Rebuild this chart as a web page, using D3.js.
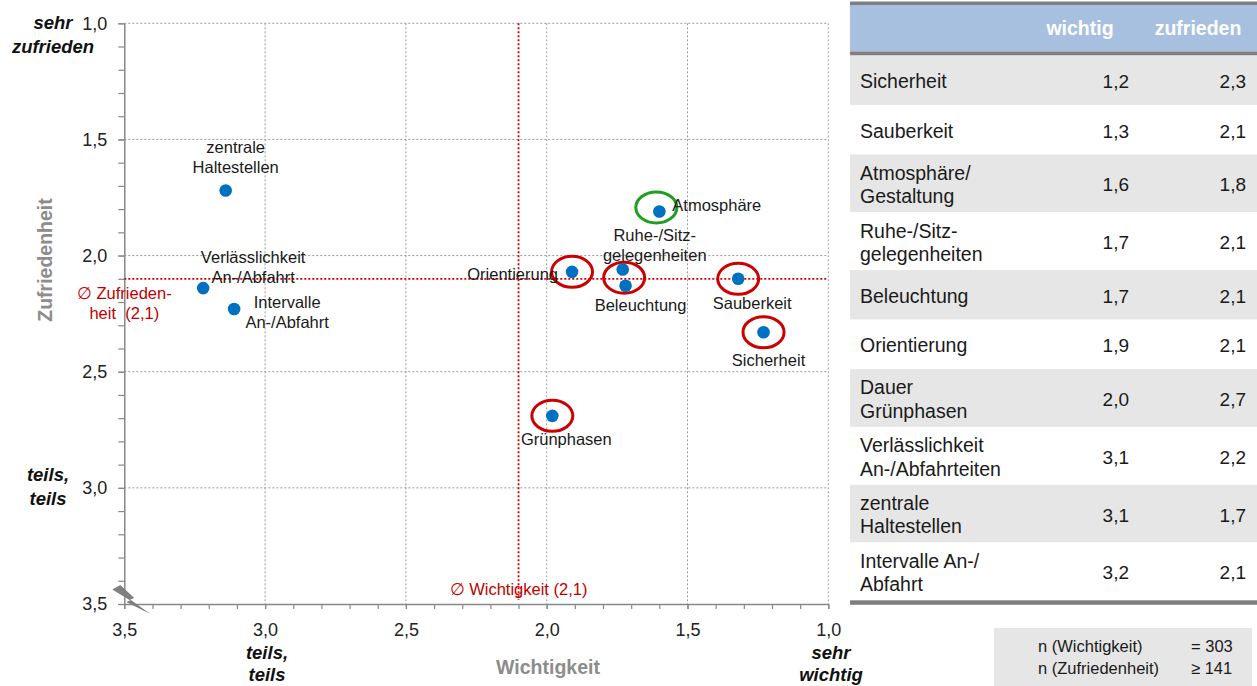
<!DOCTYPE html>
<html lang="de">
<head>
<meta charset="utf-8">
<title>Wichtigkeit und Zufriedenheit</title>
<script src="https://cdn.jsdelivr.net/npm/d3@7"></script>
<style>
  html, body { margin: 0; padding: 0; background: #fff; }
  svg { display: block; font-family: "Liberation Sans", Arial, Helvetica, sans-serif; }
</style>
</head>
<body>
<svg id="chart" width="1257" height="686"></svg>
<script>
// ---- Daten: Portfolio Wichtigkeit x Zufriedenheit (Notenskala, 1 = sehr gut) ----
const items = [
  "Sicherheit", "Sauberkeit", "Atmosphäre", "Ruhe-/Sitz-gelegenheiten", "Beleuchtung",
  "Orientierung", "Grünphasen", "Verlässlichkeit An-/Abfahrt", "zentrale Haltestellen",
  "Intervalle An-/Abfahrt"
];
const importance   = [1.23, 1.32, 1.60, 1.73, 1.72, 1.91, 1.98, 3.22, 3.14, 3.11];
const satisfaction = [2.33, 2.10, 1.81, 2.06, 2.13, 2.07, 2.69, 2.14, 1.72, 2.23];

const meanImportance = 2.1;
const meanSatisfaction = 2.1;

// hervorgehobene Kriterien (rot: Handlungsbedarf, grün: Stärke)
const redGroups = [["Orientierung"], ["Ruhe-/Sitz-gelegenheiten", "Beleuchtung"], ["Sauberkeit"], ["Sicherheit"], ["Grünphasen"]];
const greenGroups = [["Atmosphäre"]];

const xTicks = [3.5, 3.0, 2.5, 2.0, 1.5, 1.0];
const yTicks = [1.0, 1.5, 2.0, 2.5, 3.0, 3.5];

// Tabelle rechts
const tableHeader = ["wichtig", "zufrieden"];
const tableLabels = [
  ["Sicherheit"], ["Sauberkeit"], ["Atmosphäre/", "Gestaltung"], ["Ruhe-/Sitz-", "gelegenheiten"],
  ["Beleuchtung"], ["Orientierung"], ["Dauer", "Grünphasen"], ["Verlässlichkeit", "An-/Abfahrteiten"],
  ["zentrale", "Haltestellen"], ["Intervalle An-/", "Abfahrt"]
];
const tableWichtig   = [1.2, 1.3, 1.6, 1.7, 1.7, 1.9, 2.0, 3.1, 3.1, 3.2];
const tableZufrieden = [2.3, 2.1, 1.8, 2.1, 2.1, 2.1, 2.7, 2.2, 1.7, 2.1];

const sampleLabels = ["n (Wichtigkeit)", "n (Zufriedenheit)"];
const sampleValues = ["= 303", "≥ 141"];

// ---- Beschriftungs-Layout der Punkte (Versatz zur Punktmitte in px) ----
const labelLayout = {
  "Sicherheit":                  { lines: ["Sicherheit"], anchor: "middle", dx: 5, dy: 34 },
  "Sauberkeit":                  { lines: ["Sauberkeit"], anchor: "middle", dx: 14, dy: 30 },
  "Atmosphäre":                  { lines: ["Atmosphäre"], anchor: "start", dx: 13, dy: 0 },
  "Ruhe-/Sitz-gelegenheiten":    { lines: ["Ruhe-/Sitz-", "gelegenheiten"], anchor: "middle", dx: 32, dy: -29 },
  "Beleuchtung":                 { lines: ["Beleuchtung"], anchor: "middle", dx: 15, dy: 25 },
  "Orientierung":                { lines: ["Orientierung"], anchor: "end", dx: -14, dy: 8 },
  "Grünphasen":                  { lines: ["Grünphasen"], anchor: "middle", dx: 14, dy: 29 },
  "Verlässlichkeit An-/Abfahrt": { lines: ["Verlässlichkeit", "An-/Abfahrt"], anchor: "middle", dx: 50, dy: -25 },
  "zentrale Haltestellen":       { lines: ["zentrale", "Haltestellen"], anchor: "middle", dx: 10, dy: -38 },
  "Intervalle An-/Abfahrt":      { lines: ["Intervalle", "An-/Abfahrt"], anchor: "middle", dx: 53, dy: -1 }
};

const de = d3.formatLocale({ decimal: ",", thousands: ".", grouping: [3], currency: ["", " €"] });
const fmt = de.format(".1f");

const svg = d3.select("#chart");

// ---- Skalen ----
const x = d3.scaleLinear().domain([3.5, 1.0]).range([124.3, 828.3]);
const y = d3.scaleLinear().domain([1.0, 3.5]).range([23.3, 604]);

const points = items.map((name, i) => ({ name, x: importance[i], y: satisfaction[i] }));
const byName = new Map(points.map(p => [p.name, p]));

// ---- Gitternetz ----
const grid = svg.append("g").attr("class", "grid")
  .attr("stroke", "#9a9a9a").attr("stroke-width", 1).attr("stroke-dasharray", "2,2");
grid.selectAll("line.h").data(yTicks.filter(v => v < 3.5)).join("line")
  .attr("class", "h")
  .attr("x1", x(3.5)).attr("x2", x(1.0))
  .attr("y1", d => y(d)).attr("y2", d => y(d));
grid.selectAll("line.v").data(xTicks.filter(v => v < 3.5)).join("line")
  .attr("class", "v")
  .attr("x1", d => x(d)).attr("x2", d => x(d))
  .attr("y1", y(1.0)).attr("y2", y(3.5));

// ---- Achsen ----
const minorY = d3.range(10, 36).map(d => d / 10);
const minorX = d3.range(10, 36).map(d => d / 10);

function styleAxis(g) {
  g.attr("font-family", null).attr("font-size", null);
  g.selectAll(".domain").attr("stroke", "#888").attr("stroke-width", 1.5);
  g.selectAll(".tick line").attr("stroke", "#888").attr("stroke-width", 1.2);
  g.selectAll(".tick text").attr("fill", "#222").style("font-size", "18px");
}

svg.append("g").attr("transform", `translate(${x(3.5)},0)`)
  .call(d3.axisLeft(y).tickValues(minorY).tickSize(6).tickSizeOuter(0).tickFormat(""))
  .call(styleAxis);
svg.append("g").attr("transform", `translate(${x(3.5)},0)`)
  .call(d3.axisLeft(y).tickValues(yTicks).tickSize(6).tickSizeOuter(0).tickPadding(11).tickFormat(fmt))
  .call(styleAxis)
  .call(g => g.select(".domain").remove());

svg.append("g").attr("transform", `translate(0,${y(3.5)})`)
  .call(d3.axisBottom(x).tickValues(minorX).tickSize(5).tickSizeOuter(0).tickFormat(""))
  .call(styleAxis);
svg.append("g").attr("transform", `translate(0,${y(3.5)})`)
  .call(d3.axisBottom(x).tickValues(xTicks).tickSize(5).tickSizeOuter(0).tickPadding(14).tickFormat(fmt))
  .call(styleAxis)
  .call(g => g.select(".domain").remove());

// Achsenbruch-Symbol am Ursprung
const bolt = [[-4, -19], [10, -6], [6, -4.5], [26, 10], [2, -2], [6, -3.5], [-12, -14.5]];
svg.append("polygon")
  .attr("points", bolt.map(p => [x(3.5) + p[0], y(3.5) + p[1]].join(",")).join(" "))
  .attr("fill", "#7f7f7f");

// ---- Achsentitel ----
svg.append("text")
  .attr("transform", "translate(52,260) rotate(-90)")
  .attr("text-anchor", "middle")
  .attr("fill", "#8c8c8c").attr("font-weight", "bold").style("font-size", "19.5px")
  .text("Zufriedenheit");
svg.append("text")
  .attr("x", 548).attr("y", 674)
  .attr("text-anchor", "middle")
  .attr("fill", "#8c8c8c").attr("font-weight", "bold").style("font-size", "19.5px")
  .text("Wichtigkeit");

// Skalenenden (kursiv)
const ends = [
  { lines: ["sehr", "zufrieden"], cx: 53, y0: 29, lh: 24 },
  { lines: ["teils,", "teils"], cx: 48, y0: 481, lh: 24 },
  { lines: ["teils,", "teils"], cx: 267, y0: 659, lh: 22 },
  { lines: ["sehr", "wichtig"], cx: 831, y0: 659, lh: 22 }
];
ends.forEach(e => {
  const t = svg.append("text")
    .attr("text-anchor", "middle")
    .attr("fill", "#111").attr("font-weight", "bold").attr("font-style", "italic")
    .style("font-size", "18.5px");
  e.lines.forEach((l, i) => t.append("tspan").attr("x", e.cx).attr("y", e.y0 + i * e.lh).text(l));
});

// ---- Mittelwertlinien ----
const meanG = svg.append("g").attr("stroke", "#d00000").attr("stroke-width", 1.8).attr("stroke-dasharray", "2,2");
meanG.append("line")
  .attr("x1", x(3.5)).attr("x2", x(1.0))
  .attr("y1", y(meanSatisfaction)).attr("y2", y(meanSatisfaction));
meanG.append("line")
  .attr("x1", x(meanImportance)).attr("x2", x(meanImportance))
  .attr("y1", y(1.0)).attr("y2", y(3.5) - 4);

const meanLabelY = svg.append("text")
  .attr("text-anchor", "middle").attr("fill", "#c00000").style("font-size", "16.5px")
  .style("white-space", "pre");
meanLabelY.append("tspan").attr("x", x(3.5)).attr("y", y(meanSatisfaction) + 20).text("∅ Zufrieden-");
meanLabelY.append("tspan").attr("x", x(3.5)).attr("y", y(meanSatisfaction) + 40).text(`heit  (${fmt(meanSatisfaction)})`);

svg.append("text")
  .attr("x", x(meanImportance)).attr("y", 595)
  .attr("text-anchor", "middle").attr("fill", "#c00000").style("font-size", "16.5px")
  .text(`∅ Wichtigkeit (${fmt(meanImportance)})`);

// ---- Markierungen (Ellipsen) ----
function groupCenter(names) {
  const ps = names.map(n => byName.get(n));
  return [d3.mean(ps, p => x(p.x)), d3.mean(ps, p => y(p.y))];
}
const ellipses = [
  ...redGroups.map(g => ({ names: g, color: "#cc0000", nudge: [0, 0] })),
  ...greenGroups.map(g => ({ names: g, color: "#1f9e1f", nudge: [-3, -4] }))
];
svg.append("g").selectAll("ellipse").data(ellipses).join("ellipse")
  .attr("cx", d => groupCenter(d.names)[0] + d.nudge[0])
  .attr("cy", d => groupCenter(d.names)[1] + d.nudge[1])
  .attr("rx", 20.5).attr("ry", 15.5)
  .attr("fill", "none").attr("stroke", d => d.color).attr("stroke-width", 3);

// ---- Punkte ----
svg.append("g").selectAll("circle").data(points).join("circle")
  .attr("cx", d => x(d.x)).attr("cy", d => y(d.y))
  .attr("r", 6.3).attr("fill", "#0070c0");

// ---- Punktbeschriftungen ----
const lbl = svg.append("g").selectAll("text").data(points).join("text")
  .attr("text-anchor", d => labelLayout[d.name].anchor)
  .attr("fill", "#1a1a1a").style("font-size", "16.5px");
lbl.each(function (d) {
  const L = labelLayout[d.name];
  L.lines.forEach((line, i) => {
    d3.select(this).append("tspan")
      .attr("x", x(d.x) + L.dx)
      .attr("y", y(d.y) + L.dy + i * 20)
      .text(line);
  });
});

// ---- Tabelle ----
const tX0 = 850, tX1 = 1257;
const tab = svg.append("g");
tab.append("rect").attr("x", tX0).attr("y", 1.5).attr("width", tX1 - tX0).attr("height", 3.5).attr("fill", "#7f7f7f");
tab.append("rect").attr("x", tX0).attr("y", 5).attr("width", tX1 - tX0).attr("height", 46.5).attr("fill", "#a8c0e0");
tab.append("rect").attr("x", tX0).attr("y", 51.5).attr("width", tX1 - tX0).attr("height", 4).attr("fill", "#7f7f7f");

const headerX = [1080, 1198];
tab.selectAll("text.hdr").data(tableHeader).join("text")
  .attr("class", "hdr")
  .attr("x", (d, i) => headerX[i]).attr("y", 35)
  .attr("text-anchor", "middle").attr("fill", "#fff").attr("font-weight", "bold")
  .style("font-size", "19.5px")
  .text(d => d);

let rowTop = 55.5;
const rows = tableLabels.map((lines, i) => {
  const h = lines.length === 1 ? 49.5 : 57.8;
  const r = { lines, top: rowTop, h, w: tableWichtig[i], z: tableZufrieden[i], i };
  rowTop += h;
  return r;
});

const rowG = tab.selectAll("g.row").data(rows).join("g").attr("class", "row");
rowG.append("rect")
  .attr("x", tX0).attr("y", d => d.top).attr("width", tX1 - tX0).attr("height", d => d.h)
  .attr("fill", d => d.i % 2 === 0 ? "#e6e6e6" : "#ffffff");
rowG.each(function (d) {
  const g = d3.select(this);
  const c = d.top + d.h / 2;
  const t = g.append("text").attr("fill", "#1a1a1a").style("font-size", "19.5px");
  d.lines.forEach((line, k) => {
    t.append("tspan").attr("x", 860)
      .attr("y", c + 8 + (k - (d.lines.length - 1) / 2) * 23.4)
      .text(line);
  });
  g.append("text").attr("x", 1129).attr("y", c + 8).attr("text-anchor", "end")
    .attr("fill", "#1a1a1a").style("font-size", "19px").text(fmt(d.w));
  g.append("text").attr("x", 1246).attr("y", c + 8).attr("text-anchor", "end")
    .attr("fill", "#1a1a1a").style("font-size", "19px").text(fmt(d.z));
});
tab.append("rect").attr("x", tX0).attr("y", rowTop).attr("width", tX1 - tX0).attr("height", 4.5).attr("fill", "#7f7f7f");

// ---- Stichprobengröße ----
const nG = svg.append("g");
nG.append("rect").attr("x", 994).attr("y", 628).attr("width", 258).attr("height", 58).attr("fill", "#e6e6e6");
sampleLabels.forEach((l, i) => {
  nG.append("text").attr("x", 1038).attr("y", 652 + i * 21.5)
    .attr("fill", "#1a1a1a").style("font-size", "16.5px").text(l);
  nG.append("text").attr("x", 1191).attr("y", 652 + i * 21.5)
    .attr("fill", "#1a1a1a").style("font-size", "16.5px").text(sampleValues[i]);
});
</script>
</body>
</html>
